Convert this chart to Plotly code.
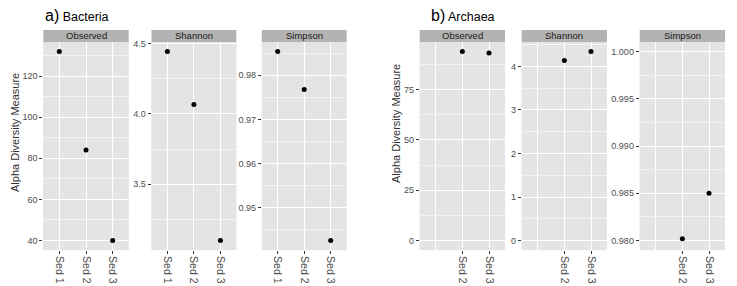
import plotly.graph_objects as go

W, H = 737, 286

categories = ["Sed 1", "Sed 2", "Sed 3"]

bact_observed = [132, 84, 40]
bact_shannon = [4.443, 4.066, 3.10]
bact_simpson = [0.9854, 0.9768, 0.9426]

arch_observed = [None, 93.9, 93.1]
arch_shannon = [None, 4.137, 4.343]
arch_simpson = [None, 0.9802, 0.9850]

# scale limits for the archaea panels (Sed 1 is present in the scale but not drawn)
arch_limits = {"Observed": [0, 93.9], "Shannon": [0, 4.343], "Simpson": [0.98, 1.0]}

measures = ["Observed", "Shannon", "Simpson"]

PANEL_BG = "#e4e4e4"
STRIP_BG = "#b3b3b3"
MINOR = "#f2f2f2"
FONT = "Liberation Sans, Arial, sans-serif"

# panel pixel boxes (x0, x1), shared y
panels_a = [(43.3, 128.7), (151.5, 236.3), (261.8, 346.6)]
panels_b = [(419.7, 505.0), (521.7, 607.0), (639.7, 725.0)]
PY0, PY1 = 42, 250
STRIP_Y0 = 30

ticks_a = [dict(dtick=20, minor=10), dict(dtick=0.5, minor=0.25), dict(dtick=0.01, minor=0.005)]
ticks_b = [dict(dtick=25, minor=12.5), dict(dtick=1, minor=0.5), dict(dtick=0.005, minor=0.0025)]
tickformat_a = ["d", ".1f", ".2f"]
tickformat_b = ["d", "d", ".3f"]


def px_x(v):
    return v / W


def px_y(v):
    return 1 - v / H


def expand(lo, hi, f=0.05):
    d = hi - lo
    return [lo - f * d, hi + f * d]


fig = go.Figure()
layout = {}
shapes = []
annotations = []

series_a = [bact_observed, bact_shannon, bact_simpson]
series_b = [arch_observed, arch_shannon, arch_simpson]
xpos = list(range(len(categories)))

k = 0
for group, panels, series, ticks, fmts in [
    ("a", panels_a, series_a, ticks_a, tickformat_a),
    ("b", panels_b, series_b, ticks_b, tickformat_b),
]:
    for i, (x0, x1) in enumerate(panels):
        k += 1
        xa = "x" if k == 1 else f"x{k}"
        ya = "y" if k == 1 else f"y{k}"
        vals = series[i]
        fig.add_trace(go.Scatter(
            x=xpos, y=vals, mode="markers", xaxis=xa, yaxis=ya,
            marker=dict(color="black", size=5), showlegend=False, cliponaxis=False,
        ))
        if group == "a":
            yr = expand(min(vals), max(vals))
            tv = xpos
            tt = categories
        else:
            lim = arch_limits[measures[i]]
            yr = expand(lim[0], lim[1])
            tv = [p for p, v in zip(xpos, vals) if v is not None]
            tt = [c for c, v in zip(categories, vals) if v is not None]
        xkey = "xaxis" if k == 1 else f"xaxis{k}"
        ykey = "yaxis" if k == 1 else f"yaxis{k}"
        layout[xkey] = dict(
            domain=[px_x(x0), px_x(x1)], anchor=ya, range=[-0.6, len(categories) - 0.4],
            tickmode="array", tickvals=tv, ticktext=tt, tickangle=90,
            ticks="outside", ticklen=3, tickcolor="#333333", tickwidth=1,
            showgrid=True, gridcolor="white", gridwidth=1,
            minor=dict(tickmode="array", tickvals=xpos, showgrid=True, gridcolor="white", gridwidth=1, ticks=""),
            zeroline=False, showline=False, automargin=False,
            tickfont=dict(size=10.5, color="#4d4d4d", family=FONT),
        )
        layout[ykey] = dict(
            domain=[px_y(PY1), px_y(PY0)], anchor=xa, range=yr,
            tick0=0, dtick=ticks[i]["dtick"], tickformat=fmts[i],
            ticks="outside", ticklen=3, tickcolor="#333333", tickwidth=1,
            showgrid=True, gridcolor="white", gridwidth=1,
            minor=dict(tick0=0, dtick=ticks[i]["minor"], showgrid=True, gridcolor=MINOR, gridwidth=1, ticks=""),
            zeroline=False, showline=False, automargin=False,
            tickfont=dict(size=9, color="#4d4d4d", family=FONT),
        )
        # panel background
        shapes.append(dict(type="rect", xref="paper", yref="paper", layer="below",
                           x0=px_x(x0), x1=px_x(x1), y0=px_y(PY1), y1=px_y(PY0),
                           fillcolor=PANEL_BG, line=dict(width=0)))
        # strip
        shapes.append(dict(type="rect", xref="paper", yref="paper",
                           x0=px_x(x0), x1=px_x(x1), y0=px_y(PY0), y1=px_y(STRIP_Y0),
                           fillcolor=STRIP_BG, line=dict(width=0)))
        annotations.append(dict(text=measures[i], xref="paper", yref="paper",
                                x=px_x((x0 + x1) / 2), y=px_y((PY0 + STRIP_Y0) / 2),
                                xanchor="center", yanchor="middle", showarrow=False,
                                font=dict(size=9.5, color="#1a1a1a", family=FONT)))

# panel titles
annotations.append(dict(text="<span style='font-size:16px'>a)</span> Bacteria", xref="paper", yref="paper",
                        x=px_x(43), y=px_y(16), xanchor="left", yanchor="middle", showarrow=False,
                        font=dict(size=12.5, color="black", family=FONT)))
annotations.append(dict(text="<span style='font-size:16px'>b)</span> Archaea", xref="paper", yref="paper",
                        x=px_x(429), y=px_y(16), xanchor="left", yanchor="middle", showarrow=False,
                        font=dict(size=12.5, color="black", family=FONT)))
# y-axis titles
annotations.append(dict(text="Alpha Diversity Measure", xref="paper", yref="paper",
                        x=px_x(15), y=px_y(133), xanchor="center", yanchor="middle", textangle=-90,
                        showarrow=False, font=dict(size=11, color="#333333", family=FONT)))
annotations.append(dict(text="Alpha Diversity Measure", xref="paper", yref="paper",
                        x=px_x(396), y=px_y(124), xanchor="center", yanchor="middle", textangle=-90,
                        showarrow=False, font=dict(size=11, color="#333333", family=FONT)))

fig.update_layout(
    width=W, height=H, margin=dict(l=0, r=0, t=0, b=0, autoexpand=False),
    paper_bgcolor="white", plot_bgcolor=PANEL_BG,
    shapes=shapes, annotations=annotations,
    font=dict(family=FONT),
    **layout,
)

fig.write_html("out.html", config={"displayModeBar": False},
               post_script="document.body.style.margin='0px';document.body.style.overflow='hidden';")
